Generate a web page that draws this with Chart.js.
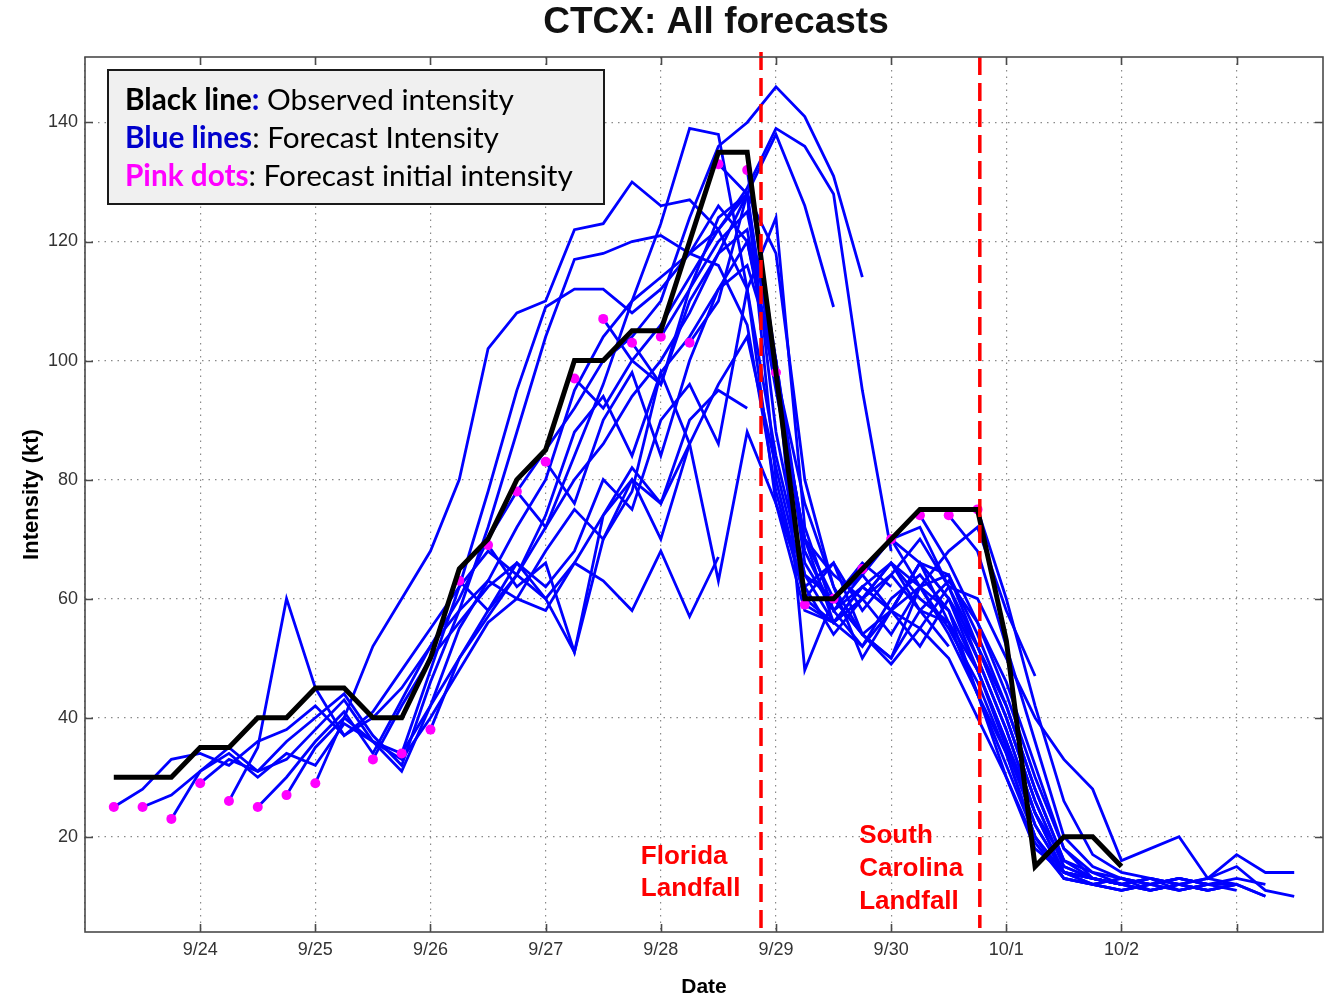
<!DOCTYPE html>
<html>
<head>
<meta charset="utf-8">
<title>CTCX: All forecasts</title>
<script src="https://cdn.jsdelivr.net/npm/chart.js@4.4.0/dist/chart.umd.min.js"></script>
<style>
    html, body { margin: 0; padding: 0; background: #ffffff; }
    #chart { display: block; }
</style>
</head>
<body>
<canvas id="chart" width="1333" height="1000"></canvas>
<script>
/* ================================
   CTCX INTENSITY SPAGHETTI PLOT
   x = days since 9/23 00Z, one value every 6 h
   ================================ */

// Axis ticks
const dayTicks = [1, 2, 3, 4, 5, 6, 7, 8, 9];
const dayLabels = ['9/24', '9/25', '9/26', '9/27', '9/28', '9/29', '9/30', '10/1', '10/2'];

// Landfall times (days)
const landfallDays = [5.87, 7.77];

// Observed intensity (kt), starting 9/23 06Z
const observedStart = 0.25;
const observed = [30, 30, 30, 35, 35, 40, 40, 45, 45, 40, 40, 50, 65, 70, 80, 85, 100, 100,
                  105, 105, 120, 135, 135, 98, 60, 60, 65, 70, 75, 75, 75, 53, 15, 20, 20, 15];

// Forecast init times (days)
const initDays = [0.25, 0.5, 0.75, 1.0, 1.25, 1.5, 1.75, 2.0, 2.5, 2.75, 3.0, 3.25, 3.5, 3.75, 4.0,
                  4.25, 4.5, 4.75, 5.0, 5.25, 5.5, 5.75, 6.0, 6.25, 6.5, 6.75, 7.0, 7.25, 7.5, 7.75];

// Forecast intensities (kt), one array per init time
const fc01 = [25, 28, 33, 34, 32, 36, 38, 42, 37, 40, 45, 52, 58, 63, 60, 68, 75, 70, 80, 76, 86];
const fc02 = [25, 27, 31, 35, 31, 33, 38, 43, 36, 34, 42, 50, 57, 64, 60, 66, 63, 58, 68, 57, 67];
const fc03 = [23, 31, 34, 30, 34, 32, 39, 36, 33, 40, 48, 56, 60, 58, 66, 74, 82, 76, 90, 95, 92];
const fc04 = [29, 33, 31, 36, 40, 44, 37, 32, 46, 58, 72, 88, 104, 117, 118, 120, 121, 118, 126, 120, 98];
const fc05 = [26, 35, 60, 45, 37, 41, 48, 55, 62, 68, 64, 72, 80, 86, 94, 100, 108, 118, 128, 138, 126, 109];
const fc06 = [25, 30, 36, 41, 34, 43, 52, 60, 70, 78, 85, 92, 100, 104, 110, 124, 136, 140, 146, 141, 131, 114];
const fc07 = [27, 35, 40, 36, 31, 42, 55, 63, 72, 80, 95, 104, 110, 114, 118, 122, 129, 139, 136, 128, 95, 68];
const fc08 = [29, 40, 52, 60, 68, 80, 102, 108, 110, 122, 123, 130, 126, 127, 122, 112, 84, 64, 60, 66, 62];
const fc09 = [33, 42, 50, 56, 62, 66, 60, 51, 74, 80, 70, 86, 96, 104, 82, 62, 54, 60, 64, 58, 52];
const fc10 = [34, 48, 62, 78, 95, 109, 112, 112, 108, 112, 118, 116, 106, 78, 60, 56, 62, 58, 66, 56, 44];
const fc11 = [38, 50, 58, 64, 74, 88, 94, 84, 98, 104, 112, 116, 100, 66, 58, 64, 70, 62, 68, 72, 58, 47];
const fc12 = [63, 58, 66, 62, 68, 80, 75, 90, 96, 86, 112, 124, 72, 58, 62, 66, 60, 56, 48, 36, 24, 16];
const fc13 = [69, 62, 66, 51, 70, 78, 98, 86, 63, 88, 76, 58, 56, 60, 54, 62, 58, 44, 30, 18, 14, 13];
const fc14 = [78, 72, 84, 96, 110, 123, 139, 138, 112, 76, 62, 66, 58, 64, 70, 62, 52, 40, 26, 15, 13, 12];
const fc15 = [83, 76, 90, 98, 84, 100, 112, 120, 96, 70, 60, 54, 50, 58, 56, 44, 34, 20, 14, 13, 12, 13];
const fc16 = [97, 92, 100, 106, 114, 122, 128, 88, 64, 56, 62, 58, 52, 60, 50, 38, 24, 14, 13, 12, 11, 12];
const fc17 = [107, 100, 96, 112, 124, 128, 80, 60, 66, 54, 50, 62, 64, 54, 42, 28, 16, 14, 13, 12, 13, 12];
const fc18 = [103, 96, 110, 118, 122, 95, 70, 64, 60, 66, 58, 63, 56, 44, 30, 18, 13, 12, 13, 12, 11, 12];
const fc19 = [104, 112, 120, 125, 100, 68, 58, 52, 60, 64, 58, 48, 36, 22, 14, 13, 12, 11, 12, 13, 12, 10];
const fc20 = [103, 110, 128, 118, 80, 62, 50, 58, 55, 62, 60, 50, 40, 33, 28, 16, 18, 20, 13, 17, 14, 14];
const fc21 = [133, 128, 96, 70, 56, 60, 66, 62, 55, 46, 34, 20, 13, 12, 13, 12, 11, 12, 13, 12];
const fc22 = [132, 100, 48, 60, 54, 58, 66, 64, 52, 40, 26, 15, 13, 12, 13, 12, 11, 12];
const fc23 = [98, 76, 62, 54, 49, 55, 50, 40, 30, 19, 13, 12, 11, 12, 13, 12, 11];
const fc24 = [59, 56, 52, 58, 66, 60, 48, 35, 22, 14, 12, 13, 11, 12, 11];
const fc25 = [60, 64, 58, 62, 54, 44, 32, 20, 13, 12, 11, 12, 11, 12];
const fc26 = [65, 70, 72, 62, 50, 38, 24, 14, 12, 11, 12, 13, 12];
const fc27 = [70, 66, 60, 52, 42, 28, 16, 13, 12, 13, 11, 12, 12];
const fc28 = [74, 66, 56, 46, 32, 18, 14, 12, 11, 12, 11, 12, 10];
const fc29 = [74, 68, 52, 36, 20, 15, 13, 12, 13, 12];
const fc30 = [75, 60, 42, 26, 17, 14, 13, 12, 13, 15, 11, 10];

const forecasts = [fc01, fc02, fc03, fc04, fc05, fc06, fc07, fc08, fc09, fc10,
                   fc11, fc12, fc13, fc14, fc15, fc16, fc17, fc18, fc19, fc20,
                   fc21, fc22, fc23, fc24, fc25, fc26, fc27, fc28, fc29, fc30];

const STEP = 0.25;
const FONT = "'Liberation Sans', Arial, sans-serif";
const LEGEND_FONT = "Lato, 'Open Sans', sans-serif";

// Build {x, y} points
function toPoints(start, values) {
    return values.map((v, i) => ({ x: start + i * STEP, y: v }));
}

// Datasets: black on top, pink under it, blue lines at the bottom
function buildDatasets() {
    const sets = [];

    sets.push({
        label: 'Observed',
        data: toPoints(observedStart, observed),
        borderColor: '#000000',
        borderWidth: 5,
        borderJoinStyle: 'miter',
        pointRadius: 0,
        order: 0
    });

    sets.push({
        type: 'scatter',
        label: 'Initial',
        data: forecasts.map((f, i) => ({ x: initDays[i], y: f[0] })),
        backgroundColor: '#ff00ff',
        borderWidth: 0,
        pointRadius: 5,
        order: 1
    });

    forecasts.forEach((f, i) => {
        sets.push({
            label: 'Forecast ' + i,
            data: toPoints(initDays[i], f),
            borderColor: '#0000ff',
            borderWidth: 2.8,
            pointRadius: 0,
            order: 2
        });
    });

    return sets;
}

// Title, frame, inward ticks, landfall lines, notes and text box
const decorations = {
    id: 'decorations',
    afterDatasetsDraw(chart) {
        const ctx = chart.ctx;
        const xs = chart.scales.x;
        const a = chart.chartArea;

        // landfall lines
        ctx.save();
        ctx.strokeStyle = '#ff0000';
        ctx.lineWidth = 3.5;
        ctx.setLineDash([18, 8]);
        landfallDays.forEach((d, i) => {
            const px = xs.getPixelForValue(d);
            ctx.beginPath();
            ctx.moveTo(px, i === 0 ? a.top - 5 : a.top);
            ctx.lineTo(px, a.bottom - 4);
            ctx.stroke();
        });
        ctx.restore();
    },
    afterDraw(chart) {
        const ctx = chart.ctx;
        const xs = chart.scales.x;
        const ys = chart.scales.y;
        const a = chart.chartArea;

        ctx.save();

        // title
        ctx.fillStyle = '#111111';
        ctx.font = 'bold 37px ' + FONT;
        ctx.textAlign = 'center';
        ctx.textBaseline = 'middle';
        ctx.fillText('CTCX: All forecasts', 716, 23);

        // frame
        ctx.strokeStyle = '#4a4a4a';
        ctx.lineWidth = 1.6;
        ctx.setLineDash([]);
        ctx.strokeRect(a.left, a.top, a.right - a.left, a.bottom - a.top);

        // inward tick marks
        ctx.beginPath();
        xs.ticks.forEach(t => {
            const px = Math.round(xs.getPixelForValue(t.value)) + 0.5;
            if (px <= a.left + 1) return;
            ctx.moveTo(px, a.bottom); ctx.lineTo(px, a.bottom - 8);
            ctx.moveTo(px, a.top); ctx.lineTo(px, a.top + 8);
        });
        ys.ticks.forEach(t => {
            const py = Math.round(ys.getPixelForValue(t.value)) + 0.5;
            ctx.moveTo(a.left, py); ctx.lineTo(a.left + 8, py);
            ctx.moveTo(a.right, py); ctx.lineTo(a.right - 8, py);
        });
        ctx.stroke();

        // landfall notes
        ctx.fillStyle = '#ff0000';
        ctx.font = 'bold 26px ' + FONT;
        ctx.textAlign = 'left';
        ctx.textBaseline = 'alphabetic';
        const flX = xs.getPixelForValue(5) - 20;
        ctx.fillText('Florida', flX, 864);
        ctx.fillText('Landfall', flX, 896);
        const scX = xs.getPixelForValue(7) - 32;
        ctx.fillText('South', scX, 843);
        ctx.fillText('Carolina', scX, 876);
        ctx.fillText('Landfall', scX, 909);

        // text box
        const bx = 108, by = 70, bw = 496, bh = 134;
        ctx.fillStyle = '#f0f0f0';
        ctx.fillRect(bx, by, bw, bh);
        ctx.strokeStyle = '#1a1a1a';
        ctx.lineWidth = 2;
        ctx.strokeRect(bx, by, bw, bh);

        const rows = [
            [['Black line', 'bold', '#000000'], [':', 'bold', '#0000cc'], [' Observed intensity', 'normal', '#000000']],
            [['Blue lines', 'bold', '#0000cc'], [': Forecast Intensity', 'normal', '#000000']],
            [['Pink dots', 'bold', '#ff00ff'], [': Forecast initial intensity', 'normal', '#000000']]
        ];

        // size the text so the longest row spans like the original
        const rowWidth = (row, size) => row.reduce((w, seg) => {
            ctx.font = seg[1] + ' ' + size + 'px ' + LEGEND_FONT;
            return w + ctx.measureText(seg[0]).width;
        }, 0);
        const size = 27 * 448 / rowWidth(rows[2], 27);

        ctx.textBaseline = 'middle';
        rows.forEach((row, r) => {
            let x = 125;
            const y = 100 + r * 38;
            row.forEach(seg => {
                ctx.font = seg[1] + ' ' + size + 'px ' + LEGEND_FONT;
                ctx.fillStyle = seg[2];
                ctx.fillText(seg[0], x, y);
                x += ctx.measureText(seg[0]).width;
            });
        });

        ctx.restore();
    }
};

function initializeChart() {
    const ctx = document.getElementById('chart');

    new Chart(ctx, {
        type: 'line',
        data: { datasets: buildDatasets() },
        options: {
            responsive: false,
            animation: false,
            events: [],
            layout: { padding: { left: 0, right: 10, top: 57, bottom: 0 } },
            plugins: {
                legend: { display: false },
                tooltip: { enabled: false },
                title: { display: false }
            },
            scales: {
                x: {
                    type: 'linear',
                    min: 0,
                    max: 10.75,
                    afterFit: s => { s.height = 68; },
                    border: { display: false, dash: [1.5, 5] },
                    grid: { color: '#8a8a8a', lineWidth: 1.2, drawTicks: false },
                    ticks: {
                        stepSize: 1,
                        includeBounds: false,
                        autoSkip: false,
                        maxRotation: 0,
                        padding: 7,
                        color: '#333333',
                        font: { family: FONT, size: 18 },
                        callback: v => {
                            const i = dayTicks.indexOf(v);
                            return i >= 0 ? dayLabels[i] : '';
                        }
                    },
                    title: {
                        display: true,
                        text: 'Date',
                        color: '#000000',
                        font: { family: FONT, size: 21, weight: 'bold' },
                        padding: { top: 0, bottom: 0 }
                    }
                },
                y: {
                    min: 4,
                    max: 151,
                    afterFit: s => { s.width = 85; },
                    border: { display: false, dash: [1.5, 5] },
                    grid: { color: '#8a8a8a', lineWidth: 1.2, drawTicks: false },
                    ticks: {
                        stepSize: 20,
                        includeBounds: false,
                        padding: 7,
                        color: '#333333',
                        font: { family: FONT, size: 18 }
                    },
                    title: {
                        display: true,
                        text: 'Intensity (kt)',
                        color: '#000000',
                        font: { family: FONT, size: 22, weight: 'bold' },
                        padding: { top: 19, bottom: 0 }
                    }
                }
            }
        },
        plugins: [decorations]
    });
}

document.addEventListener('DOMContentLoaded', initializeChart);
</script>
</body>
</html>
